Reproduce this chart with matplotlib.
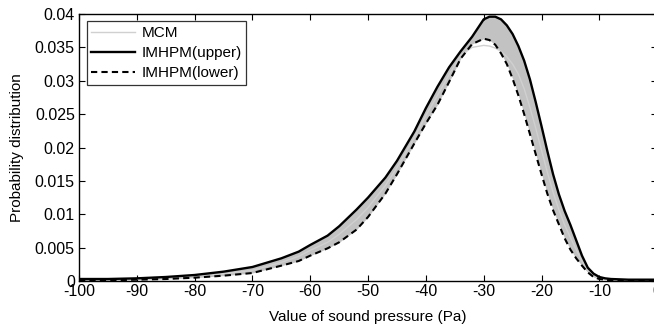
import numpy as np
import matplotlib

matplotlib.use("Agg")
import matplotlib.pyplot as plt
from matplotlib.ticker import FormatStrFormatter

# sound pressure values (Pa)
pressure = [-100, -95, -90, -85, -80, -75, -70, -65, -62, -60, -57, -55, -52, -50,
            -47, -45, -42, -40, -38, -36, -34, -32, -30, -29, -28, -27, -26, -25,
            -24, -23, -22, -21, -20, -19, -18, -17, -16, -15, -14, -13, -12, -11,
            -10, -9, -8, -5, 0]

upper = [0.0003, 0.0003, 0.0004, 0.0006, 0.0009, 0.0014, 0.0021, 0.0034, 0.0044, 0.0054,
         0.0068, 0.0082, 0.0107, 0.0125, 0.0155, 0.0180, 0.0224, 0.0259, 0.0291, 0.0320,
         0.0344, 0.0366, 0.0392, 0.0396, 0.0396, 0.0392, 0.0383, 0.0370, 0.0352, 0.0330,
         0.0302, 0.0268, 0.0232, 0.0195, 0.0160, 0.0130, 0.0105, 0.0084, 0.0061, 0.0038,
         0.0020, 0.0011, 0.0006, 0.0004, 0.0003, 0.0002, 0.0002]

lower = [0.0001, 0.0001, 0.0002, 0.0003, 0.0005, 0.0008, 0.0012, 0.0023, 0.0030, 0.0038,
         0.0049, 0.0058, 0.0077, 0.0096, 0.0131, 0.0160, 0.0206, 0.0236, 0.0264, 0.0298,
         0.0333, 0.0355, 0.0363, 0.0361, 0.0354, 0.0341, 0.0325, 0.0303, 0.0278, 0.0250,
         0.0220, 0.0190, 0.0160, 0.0131, 0.0106, 0.0085, 0.0064, 0.0047, 0.0034, 0.0023,
         0.0013, 0.0006, 0.0003, 0.0002, 0.0001, 0.0001, 0.0001]

mcm = [0.0002, 0.0002, 0.0003, 0.0004, 0.0007, 0.0011, 0.0016, 0.0028, 0.0037, 0.0046,
       0.0058, 0.0070, 0.0092, 0.0110, 0.0143, 0.0170, 0.0215, 0.0248, 0.0278, 0.0309,
       0.0338, 0.0350, 0.0353, 0.0352, 0.0349, 0.0344, 0.0336, 0.0325, 0.0310, 0.0288,
       0.0260, 0.0229, 0.0196, 0.0163, 0.0133, 0.0107, 0.0084, 0.0065, 0.0047, 0.0030,
       0.0016, 0.0008, 0.0004, 0.0003, 0.0002, 0.0001, 0.0001]

plt.rcParams["font.family"] = ["Liberation Sans", "DejaVu Sans"]
plt.rcParams["axes.unicode_minus"] = False

fig = plt.figure(figsize=(6.54, 3.26), dpi=100)
ax = fig.add_axes([0.1208, 0.138, 0.884, 0.819])

ax.fill_between(pressure, lower, upper, color="#c2c2c2", linewidth=0)
ax.plot(pressure, mcm, color="#d0d0d0", linewidth=1.0, label="MCM")
ax.plot(pressure, upper, color="black", linewidth=1.7, label="IMHPM(upper)")
ax.plot(pressure, lower, color="black", linewidth=1.5, linestyle=(0, (3, 2)),
        label="IMHPM(lower)")

ax.set_xlim(-100, 0)
ax.set_ylim(0, 0.04)
ax.set_xticks(np.arange(-100, 1, 10))
ax.set_yticks(np.arange(0, 0.0401, 0.005))
ax.yaxis.set_major_formatter(FormatStrFormatter("%g"))
ax.tick_params(direction="in", top=True, right=True, length=4, width=0.8,
               labelsize=11.5, pad=2)
ax.tick_params(axis="y", pad=3)
for s in ax.spines.values():
    s.set_linewidth(1.0)

ax.set_xlabel("Value of sound pressure (Pa)", fontsize=11, labelpad=8)
ax.set_ylabel("Probability distribution", fontsize=11, labelpad=8)

leg = ax.legend(loc="upper left", bbox_to_anchor=(0.013, 0.972), fontsize=11,
                frameon=True, fancybox=False, edgecolor="black", handlelength=2.9,
                borderpad=0.3, labelspacing=0.4, handletextpad=0.4,
                borderaxespad=0)
leg.get_frame().set_linewidth(0.9)

plt.savefig("out.png", dpi=100)
